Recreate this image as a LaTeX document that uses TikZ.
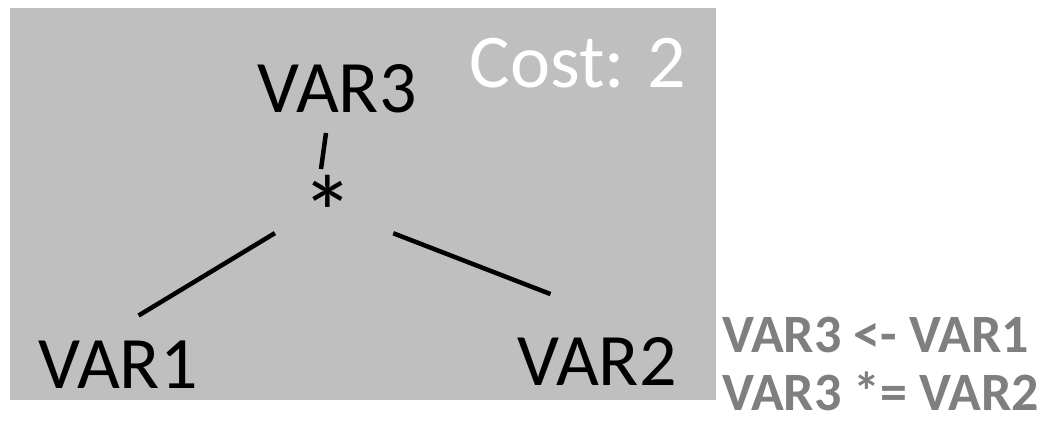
\documentclass[tikz,border=0pt]{standalone}
\usepackage{fontspec}
\setmainfont{Carlito}
\usetikzlibrary{positioning}
\definecolor{panelgray}{HTML}{BFBFBF}
\definecolor{codegray}{HTML}{7F7F7F}

\begin{document}
\begin{tikzpicture}[x=1pt, y=-1pt,
    every node/.style={inner sep=0pt, outer sep=0pt},
    term/.style={font=\fontsize{74}{80}\selectfont, anchor=base},
    code/.style={font=\fontsize{54}{58}\selectfont\bfseries, text=codegray, anchor=base west},
    edge/.style={line width=4.5pt}]
        \useasboundingbox (0,0) rectangle (1040,429);
        \fill[panelgray] (10,8) rectangle (716,400);
        \node[term, text=white, font=\fontsize{76}{80}\selectfont] (cost) at (578,87) {Cost: 2};
        \node[term] (var3) at (337,112) {VAR3};
        \node[term, font=\fontsize{106}{110}\selectfont] (times) at (328,250) {*};
        \node[term] (var1) at (118,388) {VAR1};
        \node[term] (var2) at (597,385) {VAR2};
        \node[code] (assign) at (722,352) {VAR3 <- VAR1};
        \node[code] (mult) at (722,410) {VAR3 *= VAR2};
        \draw[edge] ([xshift=-11pt, yshift=-21pt]var3.base) -- ([xshift=-7pt, yshift=81pt]times.base);
        \draw[edge, shorten <=62pt, shorten >=48pt] ([yshift=49pt]times.base) -- ([xshift=59pt]var1.north west);
        \draw[edge, shorten <=70pt, shorten >=119pt] ([yshift=42pt]times.base) -- ([xshift=144pt]var2.north west);
    \end{tikzpicture}
\end{document}
